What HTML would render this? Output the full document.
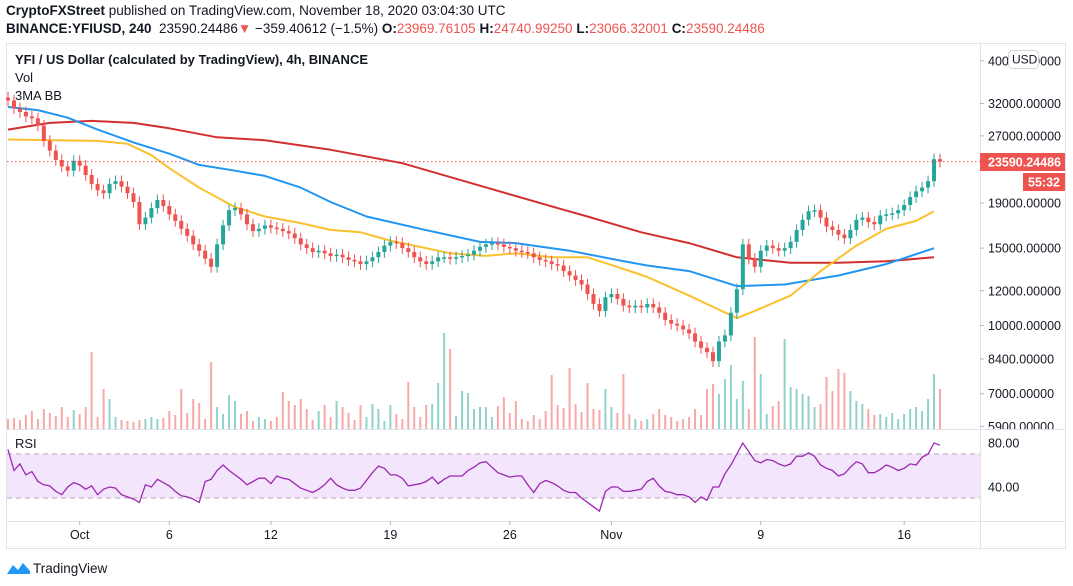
<!DOCTYPE html>
<html><head><meta charset="utf-8">
<style>
body{margin:0;background:#fff;width:1073px;height:586px;overflow:hidden;font-family:"Liberation Sans",sans-serif;}
.hdr{position:absolute;left:6px;font-size:13.5px;color:#131722;white-space:nowrap;}
.r{color:#ef5350}
</style></head><body>
<div class="hdr" style="top:3px"><b>CryptoFXStreet</b> published on TradingView.com, November 18, 2020 03:04:30 UTC</div>
<div class="hdr" style="top:21px"><b>BINANCE:YFIUSD, 240</b>&nbsp; 23590.24486<span class="r">▼</span> −359.40612 (−1.5%) <b>O:</b><span class="r">23969.76105</span> <b>H:</b><span class="r">24740.99250</span> <b>L:</b><span class="r">23066.32001</span> <b>C:</b><span class="r">23590.24486</span></div>
<svg id="chart" width="1073" height="586" style="position:absolute;left:0;top:0" font-family="Liberation Sans, sans-serif"></svg>
<script>
const closes=[32500,31200,30600,29900,29600,28500,26300,25000,23800,23000,22500,23700,23100,22000,21000,20300,20000,21000,21300,20700,20000,19100,17000,17600,18500,19300,18700,17900,17300,16600,16000,15300,14800,14200,13600,15300,16900,18300,18500,17900,17000,16400,16600,16900,16700,16600,16400,16200,15800,15300,15000,14700,14800,14600,14400,14500,14300,14100,14000,13800,14000,14300,14700,15200,15500,15400,15000,14700,14300,14000,13800,14000,14300,14300,14200,14300,14400,14500,14800,15100,15300,15400,15300,15100,15000,14800,14700,14600,14300,14100,14000,13800,13700,13300,13000,12700,12400,11800,11200,10800,11600,11800,11500,11100,11000,11100,11000,11200,11000,10700,10300,10100,10000,9800,9600,9200,8900,8700,8300,9200,9500,10700,12100,15300,14200,13600,14800,15200,15000,14800,15000,15500,16500,17400,18200,18300,17600,16800,16500,16100,15800,16500,17400,17600,17200,17000,17800,17900,18000,18300,18800,19600,20200,20600,21300,23900,23590];
const firstOpen=33000;
const volumes=[10,11,9,14,18,10,20,16,13,22,12,19,15,22,77,12,40,30,12,9,8,7,9,10,12,10,11,18,14,40,16,30,26,10,67,22,15,34,28,15,18,8,12,10,8,12,37,28,24,30,20,9,18,24,12,28,22,16,9,24,12,25,20,8,24,15,10,47,22,12,24,25,46,96,80,13,38,36,20,22,22,12,23,32,16,28,10,8,14,10,18,54,24,21,61,25,17,46,20,19,40,22,16,55,15,10,8,10,15,20,14,12,8,10,12,20,14,40,45,35,50,64,30,48,20,92,55,15,23,28,90,42,40,35,33,22,25,52,38,60,56,38,28,25,20,14,15,12,16,10,15,20,22,18,30,55,40];
const rsi=[74,55,61,51,54,45,42,41,36,33,40,44,42,38,41,33,38,40,39,33,31,29,26,42,40,47,44,41,36,32,31,29,26,45,47,55,60,55,51,47,42,45,48,48,43,50,48,47,43,39,37,35,38,42,48,42,39,37,37,39,46,53,59,57,51,51,48,41,42,43,45,49,43,47,50,50,50,55,58,62,63,58,53,51,49,50,50,42,35,43,46,44,41,37,35,35,30,26,22,18,36,40,40,36,36,37,38,45,48,41,36,35,33,33,31,26,31,28,40,40,52,60,70,80,72,64,62,65,64,61,59,61,68,68,71,68,60,57,55,50,52,58,63,61,53,53,56,60,58,55,57,61,60,67,70,80,78];
const blueIdx=[0,5,10,15,21,27,32,38,43,49,54,60,69,79,85,94,102,107,114,122,130,139,147,155];
const ma100=[31400,30900,29700,27900,26100,24600,23200,22500,21900,20600,19100,17700,16600,15500,15400,14800,14100,13700,13300,12300,12400,13000,13800,15000];
const redIdx=[0,7,14,21,27,35,43,54,66,79,92,97,106,114,122,131,139,147,155];
const ma200=[27900,28900,29200,28900,28100,26800,26400,25100,23400,20800,18500,17700,16300,15400,14300,13900,13900,14000,14300];
const yellowIdx=[0,15,20,24,27,32,38,43,49,54,59,64,69,74,80,85,91,97,102,107,114,122,125,131,136,142,147,152,155];
const ma50v=[26500,26300,25900,24400,22800,20600,18600,17700,17100,16500,16300,15600,15100,14600,14400,14600,14300,14300,13600,12900,11700,10400,10800,11700,13300,15200,16600,17300,18200];
const priceTicks=[40000,32000,27000,19000,15000,12000,10000,8400,7000,5900];
const rsiTicks=[80,40];
const dateLabels=["Oct","6","12","19","26","Nov","9","16"];
const dateIdx=[12,27,44,64,84,101,126,150];
const lastPrice=23590.24486;

const NS="http://www.w3.org/2000/svg";
const svg=document.getElementById('chart');
function mk(tag,attrs,parent){const e=document.createElementNS(NS,tag);for(const k in attrs)e.setAttribute(k,attrs[k]);(parent||svg).appendChild(e);return e;}
const X0=8,DX=932/156;
const xs=i=>X0+i*DX;
const yP=p=>203+191*Math.log(19000/p);
const yR=v=>454-(v-70)*1.1;
const yV=v=>429-v;

let g=mk('g',{});
mk('rect',{x:6.5,y:43.5,width:1059,height:505,fill:'none',stroke:'#e0e3eb'},g);
mk('line',{x1:980.5,y1:43,x2:980.5,y2:549,stroke:'#e0e3eb'},g);

let rb=mk('rect',{x:7,y:yR(70),width:973,height:yR(30)-yR(70),fill:'#f3e5fc'});

[70,30].forEach(v=>{let l=mk('line',{x1:7,x2:980,y1:yR(v),y2:yR(v),stroke:'#b2a6b8','stroke-dasharray':'5,4'});});

const opens=closes.map((c,i)=>i?closes[i-1]:firstOpen);
let vg=mk('g',{});
volumes.forEach((v,i)=>{const up=closes[i]>=opens[i];
 const r=mk('rect',{x:xs(i)-1,y:yV(v),width:2,height:v,fill:up?'rgba(38,166,154,0.5)':'rgba(239,83,80,0.5)'},vg);
 
 });

function line(idx,vals,color,name){let d=idx.map((k,j)=>(j?'L':'M')+xs(k).toFixed(1)+','+yP(vals[j]).toFixed(1)).join('');
 const p=mk('path',{d:d,fill:'none',stroke:color,'stroke-width':2,'stroke-linejoin':'round'});
 
 }
line(redIdx,ma200,'#d32f2f','ma-200-line');
line(blueIdx,ma100,'#2196f3','ma-100-line');
line(yellowIdx,ma50v,'#fbc02d','ma-50-line');

let cg=mk('g',{});
closes.forEach((c,i)=>{const o=opens[i],up=c>=o,col=up?'#26a69a':'#ef5350';
 const hi=Math.max(o,c)*1.03,lo=Math.min(o,c)*0.97,x=xs(i);
 const w=mk('line',{x1:x,x2:x,y1:yP(hi),y2:yP(lo),stroke:col,'stroke-width':1},cg);
 
 
 const t=Math.min(yP(o),yP(c)),h=Math.max(1.5,Math.abs(yP(o)-yP(c)));
 const b=mk('rect',{x:x-2,y:t,width:4,height:h,fill:col},cg);
 
 });

let rd=rsi.map((v,i)=>(i?'L':'M')+xs(i).toFixed(1)+','+yR(v).toFixed(1)).join('');
let rl=mk('path',{d:rd,fill:'none',stroke:'#9c27b0','stroke-width':1.3});


let lp=mk('line',{x1:7,x2:980,y1:yP(lastPrice),y2:yP(lastPrice),stroke:'#ef5350','stroke-dasharray':'1.5,2.5'});


priceTicks.forEach(p=>{const y=yP(p);const t=mk('text',{x:988,y:y+4.5,'font-size':12.5,fill:'#131722'});t.textContent=p.toFixed(5);
 
 
 mk('line',{x1:980,x2:984,y1:y,y2:y,stroke:'#b2b5be'});});
// pane covers over overflow
mk('rect',{x:981,y:430,width:84,height:2,fill:'#fff'});
mk('line',{x1:6,y1:429.5,x2:1066,y2:429.5,stroke:'#e0e3eb'});
mk('line',{x1:6,y1:521.5,x2:1066,y2:521.5,stroke:'#e0e3eb'});
rsiTicks.forEach(v=>{const t=mk('text',{x:988,y:yR(v)+4.5,'font-size':12.5,fill:'#131722'});t.textContent=v.toFixed(2);
 
 });
let pl=mk('rect',{x:980,y:153,width:85,height:18,fill:'#ef5350'});
let plt=mk('text',{x:988,y:166.5,'font-size':12.5,fill:'#fff','font-weight':'bold'});plt.textContent=lastPrice.toFixed(5);
let cd=mk('rect',{x:1023,y:173,width:42,height:18,fill:'#ef5350'});
let cdt=mk('text',{x:1028,y:186.5,'font-size':12.5,fill:'#fff','font-weight':'bold'});cdt.textContent='55:32';
let ub=mk('rect',{x:1008.5,y:50.5,width:30,height:18,rx:4,fill:'#fff',stroke:'#d1d4dc'});
let ut=mk('text',{x:1012,y:63.5,'font-size':12,fill:'#131722'});ut.textContent='USD';

dateLabels.forEach((s,j)=>{const x=xs(dateIdx[j]);mk('line',{x1:x,x2:x,y1:521,y2:525,stroke:'#b2b5be'});
 const t=mk('text',{x:x,y:539,'font-size':12.5,fill:'#131722','text-anchor':'middle'});t.textContent=s;
 
 });

[['YFI / US Dollar (calculated by TradingView), 4h, BINANCE',64,'bold','series-title'],['Vol',82,'normal','volume-legend'],['3MA BB',100,'normal','ma-legend'],['RSI',448,'normal','rsi-legend']].forEach(a=>{
 const t=mk('text',{x:15,y:a[1],'font-size':13,fill:'#131722','font-weight':a[2]});t.textContent=a[0];
 
 });

let lg=mk('g',{});
mk('path',{d:'M7,574 L13,565 L18,570 L23,563 L30,571 L30,574 Z',fill:'#2196f3'},lg);
const lt=mk('text',{x:33,y:573,'font-size':13.5,fill:'#131722'},lg);lt.textContent='TradingView';
</script>
</body></html>
